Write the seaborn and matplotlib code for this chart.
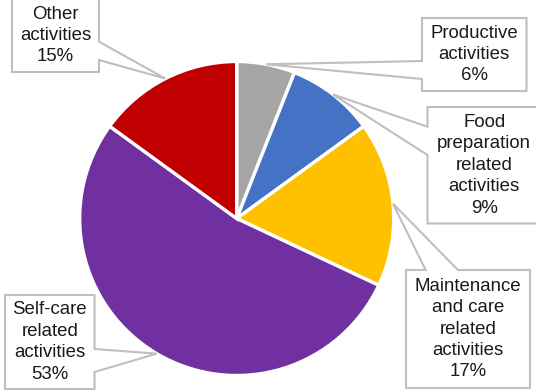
import numpy as np
import matplotlib
matplotlib.use("Agg")
import matplotlib.pyplot as plt
from matplotlib.patches import Polygon
import seaborn as sns

# Share of time by activity type (percent), clockwise from 12 o'clock
categories = [
    "Productive\nactivities",
    "Food\npreparation\nrelated\nactivities",
    "Maintenance\nand care\nrelated\nactivities",
    "Self-care\nrelated\nactivities",
    "Other\nactivities",
]
shares = [6, 9, 17, 53, 15]
slice_colors = ["#A5A5A5", "#4472C4", "#FFC000", "#7030A0", "#C00000"]

sns.set_theme(style="white")
plt.rcParams["font.family"] = ["Liberation Sans", "DejaVu Sans"]

W, H = 536, 390
fig = plt.figure(figsize=(W / 100, H / 100), dpi=100)
ax = fig.add_axes([0, 0, 1, 1])

cx, cy, r = 236.7, H - 218.5, 157
ax.pie(
    shares,
    colors=slice_colors,
    startangle=90,
    counterclock=False,
    center=(cx, cy),
    radius=r,
    wedgeprops=dict(edgecolor="white", linewidth=2.4),
)
ax.set_xlim(0, W)
ax.set_ylim(0, H)
ax.set_aspect("equal")
ax.axis("off")

# Callout boxes: (left, top, right, bottom) in pixels from the top-left,
# the side carrying the pointer and where the pointer meets that side.
boxes = [
    ((422, 18, 526.5, 91), "left", (61, 79)),
    ((427.5, 107, 541, 223.5), "left", (126.7, 155)),
    ((406, 270, 530, 388), "top", (425.6, 458)),
    ((5, 295, 94.5, 389), "right", (349, 372)),
    ((12, -1, 99, 72), "right", (41.7, 60)),
]

edge = "#BFBFBF"
total = float(sum(shares))
cum = 0.0
for label, val, (box, side, base) in zip(categories, shares, boxes):
    mid = 90 - 360 * (cum + val / 2) / total
    cum += val
    ax_x = cx + r * np.cos(np.radians(mid))
    ax_y = cy + r * np.sin(np.radians(mid))

    x0, t, x1, b = box
    y_top, y_bot = H - t, H - b
    tip = (ax_x, ax_y)
    if side == "left":
        p, q = H - base[0], H - base[1]
        pts = [(x0, y_top), (x1, y_top), (x1, y_bot), (x0, y_bot),
               (x0, q), tip, (x0, p)]
    elif side == "right":
        p, q = H - base[0], H - base[1]
        pts = [(x0, y_top), (x1, y_top), (x1, p), tip, (x1, q),
               (x1, y_bot), (x0, y_bot)]
    else:  # top
        p, q = base
        pts = [(x0, y_top), (p, y_top), tip, (q, y_top), (x1, y_top),
               (x1, y_bot), (x0, y_bot)]
    ax.add_patch(Polygon(pts, closed=True, facecolor="white",
                         edgecolor=edge, linewidth=1.5, zorder=3))
    ax.text((x0 + x1) / 2, (y_top + y_bot) / 2, f"{label}\n{val}%",
            ha="center", va="center", multialignment="center",
            fontsize=13.4, color="#1A1A1A", linespacing=1.34, zorder=4)

fig.savefig("out.png", dpi=100)
